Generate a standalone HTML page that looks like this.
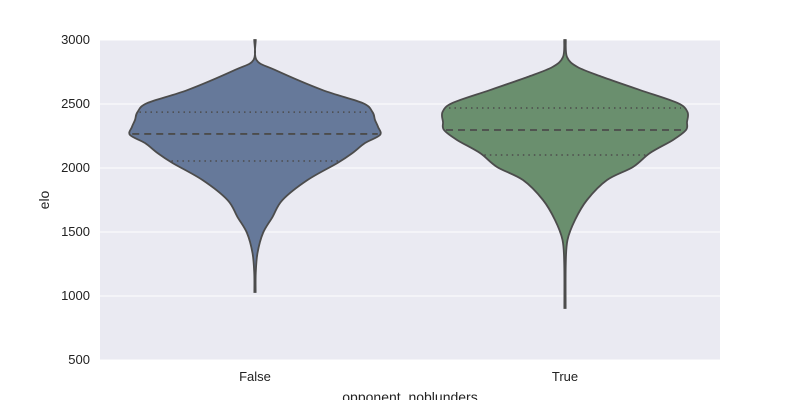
<!DOCTYPE html>
<html><head><meta charset="utf-8"><style>
body{margin:0;background:#fff;font-family:"Liberation Sans",sans-serif}
</style></head><body>
<svg id="c" width="800" height="400" xmlns="http://www.w3.org/2000/svg"></svg>
<script>
const categories=["False","True"];
const colors=["#66799a","#6a8f6e"];
const yTicks=[500,1000,1500,2000,2500,3000];
const eloFalse=[3000,2844,2766,2609,2508,2437,2375,2320,2258,2195,2117,2039,1906,1750,1617,1492,1336,1180,1031];
const densFalse=[0.006,0.012,0.16,0.54,0.86,0.94,0.96,0.985,1.0,0.88,0.78,0.66,0.42,0.22,0.14,0.064,0.02,0.006,0.005];
const eloTrue=[3000,2867,2789,2711,2609,2508,2437,2359,2297,2219,2117,2008,1906,1750,1594,1438,1250,906];
const densTrue=[0.006,0.016,0.1,0.3,0.6,0.9,0.98,0.976,0.968,0.864,0.68,0.544,0.336,0.176,0.08,0.02,0.006,0.005];
const quartFalse=[2055,2266,2437];
const quartTrue=[2102,2297,2469];
const elos=[eloFalse,eloTrue],dens=[densFalse,densTrue],quarts=[quartFalse,quartTrue];

const svg=document.getElementById('c');const NS="http://www.w3.org/2000/svg";
const L=100,R=720,T=40,B=360,maxHW=125;
const y=v=>B-(v-500)/2500*(B-T);
const x=i=>L+(R-L)*(i+0.5)/categories.length;
function mk(t,a,p){const e=document.createElementNS(NS,t);for(const k in a)e.setAttribute(k,a[k]);(p||svg).appendChild(e);return e;}
const bg=mk('rect',{x:L,y:T,width:R-L,height:B-T,fill:'#eaeaf2'});


yTicks.forEach(t=>{
 const g=mk('line',{x1:L,x2:R,y1:y(t),y2:y(t),stroke:'#fff','stroke-width':1});
 
 
 const lb=mk('text',{x:L-10,y:y(t)+4,'text-anchor':'end','font-size':13,fill:'#222'});lb.textContent=t;
 
 
});
function smooth(pts){let d='M'+pts[0][0]+','+pts[0][1];
 for(let i=0;i<pts.length-1;i++){const p0=pts[Math.max(i-1,0)],p1=pts[i],p2=pts[i+1],p3=pts[Math.min(i+2,pts.length-1)];
 d+=' C'+(p1[0]+(p2[0]-p0[0])/6)+','+(p1[1]+(p2[1]-p0[1])/6)+' '+(p2[0]-(p3[0]-p1[0])/6)+','+(p2[1]-(p3[1]-p1[1])/6)+' '+p2[0]+','+p2[1];}
 return d;}
categories.forEach((c,i)=>{
 const cx=x(i),E=elos[i],D=dens[i];
 const right=E.map((v,k)=>[cx+D[k]*maxHW,y(v)]);
 const left=E.map((v,k)=>[cx-D[k]*maxHW,y(v)]).reverse();
 const d=smooth(right)+' L'+left[0][0]+','+left[0][1]+smooth(left).replace(/^M[^ C]+/,'')+' Z';
 const p=mk('path',{d:d,fill:colors[i],stroke:'#4c4c4c','stroke-width':1.8});
 
 
 function hwAt(v){for(let k=0;k<E.length-1;k++){if(v<=E[k]&&v>=E[k+1]){const f=(E[k]-v)/(E[k]-E[k+1]);return (D[k]+(D[k+1]-D[k])*f)*maxHW;}}return 0;}
 quarts[i].forEach((q,j)=>{const h=hwAt(q)-2;
  const ln=mk('line',{x1:cx-h,x2:cx+h,y1:y(q),y2:y(q),stroke:'#4c4c4c','stroke-width':j==1?1.8:1.5,'stroke-dasharray':j==1?'7,5':'1.5,4'});
  
  });
 const lb=mk('text',{x:cx,y:381,'text-anchor':'middle','font-size':13,fill:'#222'});lb.textContent=c;
 
 
});
const xt=mk('text',{x:410,y:402,'text-anchor':'middle','font-size':14,fill:'#222'});xt.textContent='opponent_noblunders';


const yt=mk('text',{x:0,y:0,'text-anchor':'middle','font-size':14,fill:'#222',transform:'translate(49,200) rotate(-90)'});yt.textContent='elo';


</script>
</body></html>
